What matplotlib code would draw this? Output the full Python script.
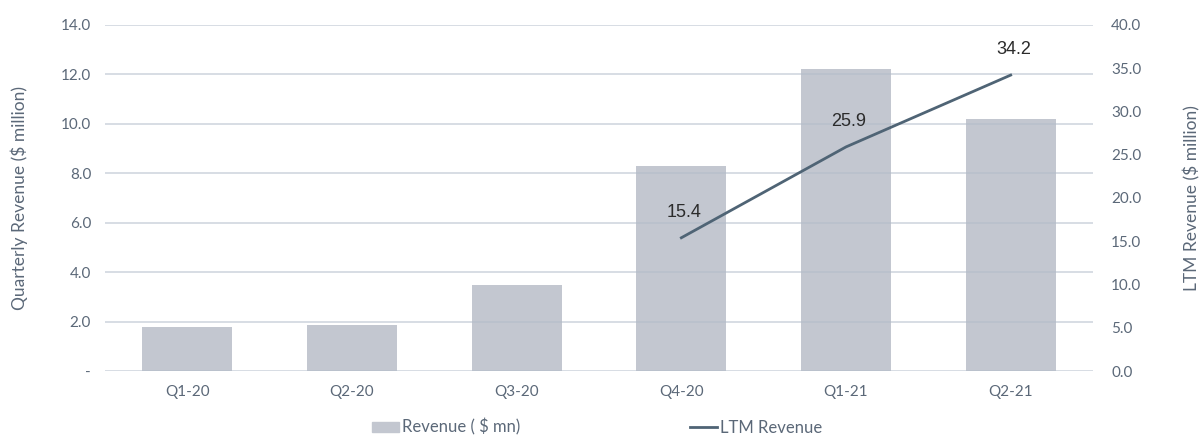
import numpy as np
import matplotlib.pyplot as plt
from matplotlib.patches import Patch
from matplotlib.lines import Line2D
from matplotlib.ticker import FuncFormatter

quarters = ["Q1-20", "Q2-20", "Q3-20", "Q4-20", "Q1-21", "Q2-21"]
revenue = [1.8, 1.86, 3.48, 8.3, 12.2, 10.2]
ltm_quarters = ["Q4-20", "Q1-21", "Q2-21"]
ltm = [15.4, 25.9, 34.2]

plt.rcParams['font.family'] = ['Lato', 'DejaVu Sans']
tick_col = '#5b6878'
bar_col = '#c3c7d0'
line_col = '#4f6475'

fig = plt.figure(figsize=(11.99, 4.37), dpi=100)
ax = fig.add_axes([0.0876, 0.151, 0.824, 0.792])
ax2 = ax.twinx()

x = np.arange(len(quarters))
ax.bar(x, revenue, width=0.545, color=bar_col, zorder=1)
ax.set_ylim(0, 14)
ax.set_yticks(np.arange(0, 14.1, 2))
ax.yaxis.set_major_formatter(FuncFormatter(lambda v, p: '-' if v == 0 else f'{v:.1f}'))
ax.set_xlim(-0.5, 5.5)
ax.set_xticks(x)
ax.set_xticklabels(quarters)
ax.set_axisbelow(False)
ax.grid(axis='y', color='#b3bdca', alpha=0.6, linewidth=1.2, zorder=2)

lx = [quarters.index(q) for q in ltm_quarters]
ax2.plot(lx, ltm, color=line_col, linewidth=2, zorder=3)
ax2.set_ylim(0, 40)
ax2.set_yticks(np.arange(0, 40.1, 5))
ax2.yaxis.set_major_formatter(FuncFormatter(lambda v, p: f'{v:.1f}'))
for xi, v in zip(lx, ltm):
    ax2.annotate(f'{v:.1f}', (xi, v), xytext=(2, 12), textcoords='offset points',
                 ha='center', va='bottom', fontsize=13, color='#2b2b2b',
                 family=['Liberation Sans', 'DejaVu Sans'])

for a in (ax, ax2):
    for s in a.spines.values():
        s.set_visible(False)
    a.tick_params(length=0, labelsize=11, colors=tick_col)
ax.tick_params(axis='y', pad=10)
ax.tick_params(axis='x', pad=10)
ax2.tick_params(axis='y', pad=13)

ax.set_ylabel('Quarterly Revenue ($ million)', color=tick_col, fontsize=12.5, labelpad=24)
ax2.set_ylabel('LTM Revenue ($ million)', color=tick_col, fontsize=12.5, labelpad=30, rotation=90)

handles = [Patch(color=bar_col), Line2D([0], [0], color=line_col, linewidth=2)]
fig.legend(handles, ['Revenue ( $ mn)', 'LTM Revenue'], loc='center', bbox_to_anchor=(0.498, 0.022),
           ncol=2, frameon=False, fontsize=12, labelcolor=tick_col, columnspacing=10.2,
           handlelength=1.6, handletextpad=0.2, handleheight=0.6)

fig.savefig('out.png', dpi=100)
